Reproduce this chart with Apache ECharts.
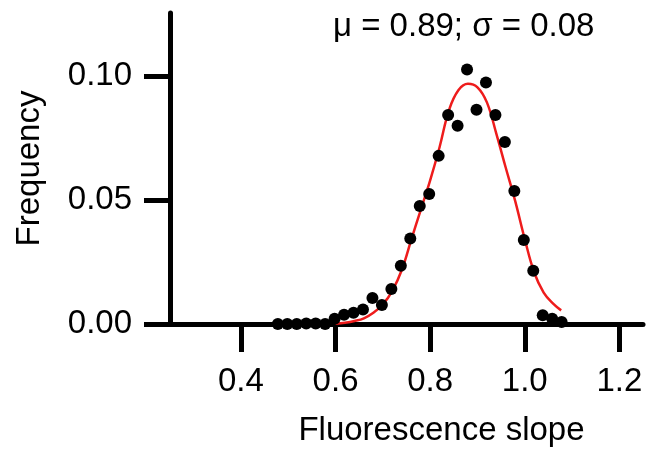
<!DOCTYPE html>
<html>
<head>
<meta charset="utf-8">
<script src="https://cdn.jsdelivr.net/npm/echarts@6/dist/echarts.min.js"></script>
<style>html,body{margin:0;padding:0;background:#fff}#c{width:646px;height:452px}</style>
</head>
<body>
<div id="c"></div>
<script>
// Observed histogram (bin centre, frequency)
var slopes = [0.478,0.498,0.518,0.538,0.558,0.578,0.598,0.618,0.638,0.658,0.678,0.698,0.718,0.738,0.758,0.778,0.798,0.818,0.838,0.858,0.878,0.898,0.918,0.938,0.958,0.978,0.998,1.018,1.038,1.058,1.078];
var freqs = [0.0000,0.0000,0.0000,0.0002,0.0002,0.0000,0.0021,0.0037,0.0045,0.0059,0.0105,0.0077,0.0141,0.0235,0.0345,0.0477,0.0525,0.0679,0.0844,0.0801,0.1028,0.0865,0.0975,0.0844,0.0735,0.0537,0.0339,0.0215,0.0035,0.0021,0.0008];
// Fitted curve
var fitX = [0.60,0.62,0.64,0.66,0.68,0.70,0.72,0.74,0.76,0.78,0.80,0.82,0.84,0.86,0.88,0.90,0.92,0.94,0.96,0.98,1.00,1.02,1.04,1.06,1.077];
var fitY = [0.0001,0.0005,0.0012,0.0023,0.0045,0.0079,0.0134,0.0218,0.0340,0.0460,0.0580,0.0715,0.0865,0.0945,0.0970,0.0956,0.0895,0.0768,0.0630,0.0495,0.0343,0.0208,0.0127,0.0082,0.0055];
var xTicks = [0.4,0.6,0.8,1.0,1.2];
var yTicks = [0,0.05,0.10];
var titleText = 'μ = 0.89; σ = 0.08';

var FONT = 'Liberation Sans, Arial, sans-serif';
var chart = echarts.init(document.getElementById('c'), null, {renderer:'canvas'});
chart.setOption({
  backgroundColor:'#fff',
  animation:false,
  title:{text:titleText,left:328,top:5,textStyle:{fontSize:33,fontWeight:'normal',color:'#000',fontFamily:FONT}},
  grid:{left:170,right:3,top:13,bottom:125,containLabel:false},
  xAxis:{
    type:'value',min:0.25,max:1.25,
    name:'Fluorescence slope',nameLocation:'middle',nameGap:90,
    nameTextStyle:{fontSize:33,color:'#000',fontFamily:FONT,padding:[0,0,0,70]},
    axisLine:{lineStyle:{color:'#000',width:5}},
    axisTick:{customValues:xTicks,length:28,lineStyle:{color:'#000',width:5}},
    axisLabel:{customValues:xTicks,margin:41,fontSize:33,color:'#000',fontFamily:FONT,formatter:function(v){return v.toFixed(1);}},
    splitLine:{show:false}
  },
  yAxis:{
    type:'value',min:0,max:0.1256,
    name:'Frequency',nameLocation:'middle',nameGap:124,nameRotate:90,
    nameTextStyle:{fontSize:33,color:'#000',fontFamily:FONT},
    axisLine:{show:true,lineStyle:{color:'#000',width:5}},
    axisTick:{show:true,customValues:yTicks,length:26,lineStyle:{color:'#000',width:5}},
    axisLabel:{customValues:yTicks,margin:38,fontSize:33,color:'#000',fontFamily:FONT,formatter:function(v){return v.toFixed(2);}},
    splitLine:{show:false}
  },
  series:[
    {type:'line',data:fitX.map(function(x,i){return [x,fitY[i]];}),smooth:0.4,showSymbol:false,symbol:'none',
     lineStyle:{color:'#ee1c1c',width:2.5},z:2},
    {type:'scatter',data:slopes.map(function(x,i){return [x,freqs[i]];}),symbol:'circle',symbolSize:12,
     itemStyle:{color:'#000',opacity:1},clip:false,z:3}
  ]
});
</script>
</body>
</html>
